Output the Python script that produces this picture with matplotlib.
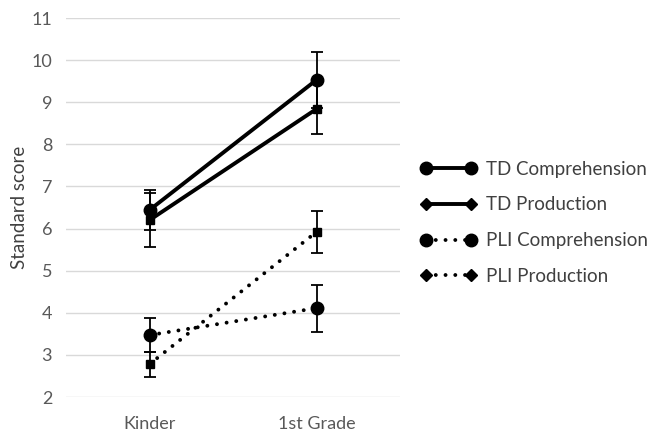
import matplotlib.pyplot as plt
from matplotlib.lines import Line2D

plt.rcParams['font.family'] = ['Lato', 'DejaVu Sans']

# data
grades = ['Kinder', '1st Grade']
series_names = ['TD Comprehension', 'TD Production', 'PLI Comprehension', 'PLI Production']
td_comp = [6.44, 9.53]
td_comp_err = [0.47, 0.66]
td_prod = [6.2, 8.84]
td_prod_err = [0.64, 0.6]
pli_comp = [3.47, 4.11]
pli_comp_err = [0.4, 0.56]
pli_prod = [2.78, 5.92]
pli_prod_err = [0.3, 0.5]

fig = plt.figure(figsize=(6.65, 4.43), dpi=100)
ax = fig.add_axes([66 / 665, 1 - 397 / 443, 334 / 665, 379 / 443])

dots = (0, (0.01, 2.5))
x = list(range(len(grades)))
styles = [
    (td_comp, td_comp_err, '-', 'o', 9),
    (td_prod, td_prod_err, '-', 's', 5.5),
    (pli_comp, pli_comp_err, dots, 'o', 9),
    (pli_prod, pli_prod_err, dots, 's', 5.5),
]
for vals, err, ls, mk, ms in styles:
    ax.errorbar(x, vals, yerr=err, color='black', ls=ls, lw=2.8,
                marker=mk, markersize=ms, ecolor='black', elinewidth=1.3,
                capsize=4, capthick=1.3, zorder=3,
                dash_capstyle='round')

ax.set_xlim(-0.5, 1.5)
ax.set_ylim(2, 11)
ax.set_yticks(range(2, 12))
ax.set_xticks(x)
ax.set_xticklabels(grades)
ax.grid(axis='y', color='#d9d9d9', lw=1)
ax.set_axisbelow(True)
for s in ax.spines.values():
    s.set_visible(False)
ax.tick_params(length=0, labelsize=13, colors='#595959', pad=10)
ax.tick_params(axis='x', pad=14)
ax.set_ylabel('Standard score', fontsize=13.5, color='#404040')
ax.yaxis.set_label_coords(-0.115, 0.5)

handles = []
for vals, err, ls, mk, ms in styles:
    lmk = 'o' if mk == 'o' else 'D'
    handles.append(Line2D([0, 1], [0, 0], color='black', ls=ls, lw=2.8, marker=lmk,
                          markersize=9 if lmk == 'o' else 6.5,
                          dash_capstyle='round'))
fig.legend(handles, series_names, loc='center left', bbox_to_anchor=(0.607, 0.497),
           frameon=False, fontsize=13.5, labelcolor='#404040', numpoints=2,
           handlelength=3.0, handletextpad=0.5, labelspacing=1.0)

fig.savefig('out.png', dpi=100)
